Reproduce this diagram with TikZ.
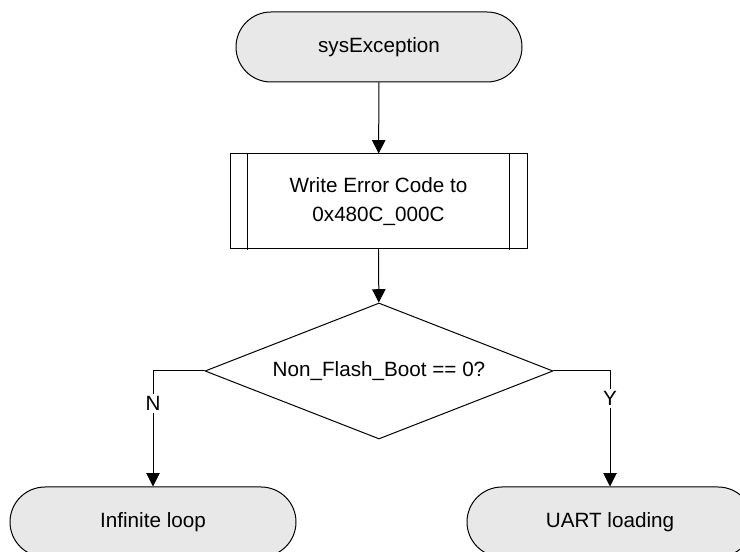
\documentclass[tikz,border=0pt]{standalone}
\usepackage{fontspec}
\setmainfont{Liberation Sans}
\usetikzlibrary{arrows.meta}
\usetikzlibrary{shapes.misc}
\usetikzlibrary{shapes.geometric}
\definecolor{termgray}{HTML}{E8E8E8}
\tikzset{
terminal/.style={draw,rounded rectangle,fill=termgray,minimum width=214.5pt,minimum height=52.5pt,inner sep=0pt},
process/.style={draw,rectangle,minimum width=222.75pt,minimum height=71.25pt,align=center},
decision/.style={draw,diamond,aspect=2.56,minimum width=261pt,minimum height=102pt,inner sep=0pt},
yesno/.style={fill=white,inner sep=2pt}
}

\begin{document}
\begin{tikzpicture}[line cap=round,line join=round,>={Triangle[width=10pt,length=10pt]},x=0.75pt,y=-0.75pt,line width=0.75pt,font=\fontsize{15.5}{21.75}\selectfont]
\clip(0,0) rectangle (740,552);
\node[terminal] (start) at (379,47) {sysException};
\node[process] (wrcode) at (378.5,201.5) {Write Error Code to\\0x480C\_000C};
\draw ([xshift=13.5pt]wrcode.north west) -- ([xshift=13.5pt]wrcode.south west);
\draw ([xshift=-13.5pt]wrcode.north east) -- ([xshift=-13.5pt]wrcode.south east);
\node[decision] (nfboot) at (379,371) {Non\_Flash\_Boot == 0?};
\node[terminal] (infloop) at (153,522) {Infinite loop};
\node[terminal] (uart) at (610,522) {UART loading};
\draw [->] (start) -- (wrcode);
\draw [->] (wrcode) -- (nfboot);
\draw [->] (nfboot.west) -| node[yesno,pos=0.64] {N} (infloop.north);
\draw [->] (nfboot.east) -| node[yesno,pos=0.62] {Y} (uart.north);
\end{tikzpicture}
\end{document}
